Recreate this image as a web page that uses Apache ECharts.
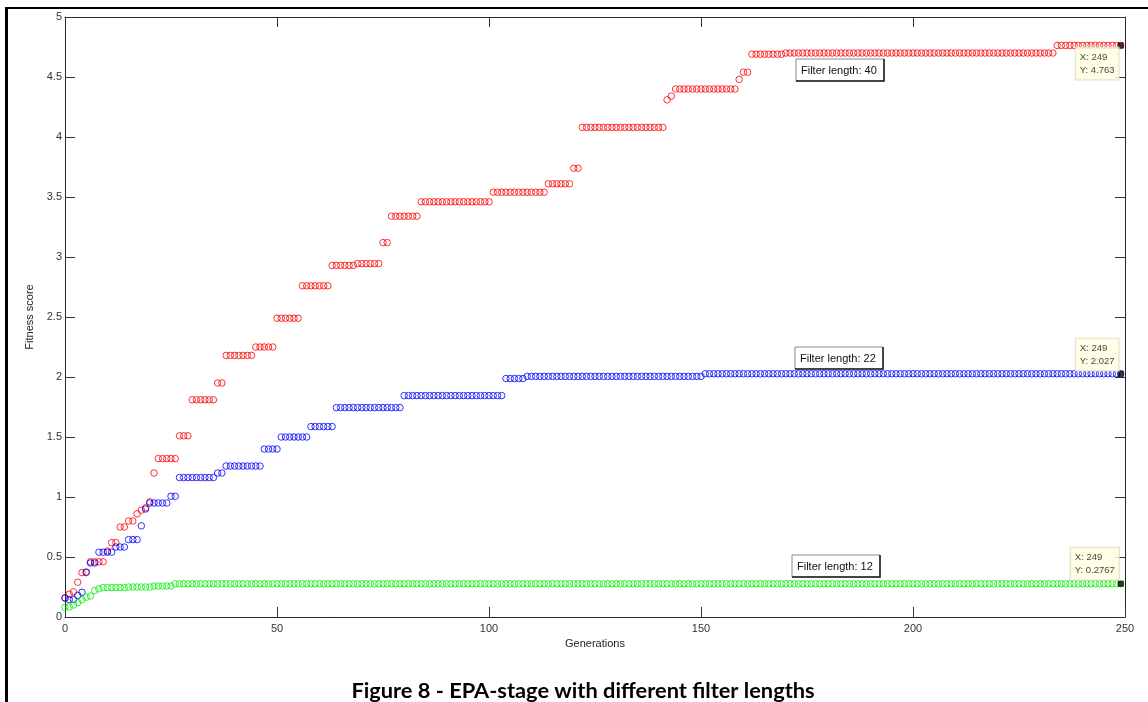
<!DOCTYPE html>
<html><head><meta charset="utf-8">
<script src="https://cdn.jsdelivr.net/npm/echarts@6/dist/echarts.min.js"></script>
<style>html,body{margin:0;padding:0;background:#fff}#chart{width:1148px;height:702px}</style>
</head><body><div id="chart"></div>
<script>
// ---- DATA ----
const titleText = 'Figure 8 - EPA-stage with different filter lengths';
const xTicks = [0, 50, 100, 150, 200, 250];
const yTicks = [0, 0.5, 1, 1.5, 2, 2.5, 3, 3.5, 4, 4.5, 5];
const seriesNames = ['Filter length: 40', 'Filter length: 22', 'Filter length: 12'];

const fitness40 = [
 0.16,0.19,0.21,0.29,0.37,0.37,0.46,0.46,0.46,0.46,
 0.55,0.62,0.62,0.75,0.75,0.80,0.80,0.86,0.89,0.91,
 0.96,1.20,1.32,1.32,1.32,1.32,1.32,1.51,1.51,1.51,
 1.81,1.81,1.81,1.81,1.81,1.81,1.95,1.95,2.18,2.18,
 2.18,2.18,2.18,2.18,2.18,2.25,2.25,2.25,2.25,2.25,
 2.49,2.49,2.49,2.49,2.49,2.49,2.76,2.76,2.76,2.76,
 2.76,2.76,2.76,2.93,2.93,2.93,2.93,2.93,2.93,2.945,
 2.945,2.945,2.945,2.945,2.945,3.12,3.12,3.34,3.34,3.34,
 3.34,3.34,3.34,3.34,3.46,3.46,3.46,3.46,3.46,3.46,
 3.46,3.46,3.46,3.46,3.46,3.46,3.46,3.46,3.46,3.46,
 3.46,3.54,3.54,3.54,3.54,3.54,3.54,3.54,3.54,3.54,
 3.54,3.54,3.54,3.54,3.61,3.61,3.61,3.61,3.61,3.61,
 3.74,3.74,4.08,4.08,4.08,4.08,4.08,4.08,4.08,4.08,
 4.08,4.08,4.08,4.08,4.08,4.08,4.08,4.08,4.08,4.08,
 4.08,4.08,4.31,4.34,4.40,4.40,4.40,4.40,4.40,4.40,
 4.40,4.40,4.40,4.40,4.40,4.40,4.40,4.40,4.40,4.48,
 4.54,4.54,4.69,4.69,4.69,4.69,4.69,4.69,4.69,4.69,
 4.70,4.70,4.70,4.70,4.70,4.70,4.70,4.70,4.70,4.70,
 4.70,4.70,4.70,4.70,4.70,4.70,4.70,4.70,4.70,4.70,
 4.70,4.70,4.70,4.70,4.70,4.70,4.70,4.70,4.70,4.70,
 4.70,4.70,4.70,4.70,4.70,4.70,4.70,4.70,4.70,4.70,
 4.70,4.70,4.70,4.70,4.70,4.70,4.70,4.70,4.70,4.70,
 4.70,4.70,4.70,4.70,4.70,4.70,4.70,4.70,4.70,4.70,
 4.70,4.70,4.70,4.70,4.763,4.763,4.763,4.763,4.763,4.763,
 4.763,4.763,4.763,4.763,4.763,4.763,4.763,4.763,4.763,4.763
];

const fitness22 = [
 0.158,0.145,0.145,0.18,0.206,0.375,0.45,0.45,0.54,0.54,
 0.54,0.54,0.583,0.583,0.583,0.645,0.645,0.645,0.76,0.90,
 0.95,0.95,0.95,0.95,0.95,1.006,1.006,1.162,1.162,1.162,
 1.162,1.162,1.162,1.162,1.162,1.162,1.20,1.20,1.258,1.258,
 1.258,1.258,1.258,1.258,1.258,1.258,1.258,1.40,1.40,1.40,
 1.40,1.50,1.50,1.50,1.50,1.50,1.50,1.50,1.587,1.587,
 1.587,1.587,1.587,1.587,1.745,1.745,1.745,1.745,1.745,1.745,
 1.745,1.745,1.745,1.745,1.745,1.745,1.745,1.745,1.745,1.745,
 1.845,1.845,1.845,1.845,1.845,1.845,1.845,1.845,1.845,1.845,
 1.845,1.845,1.845,1.845,1.845,1.845,1.845,1.845,1.845,1.845,
 1.845,1.845,1.845,1.845,1.987,1.987,1.987,1.987,1.987,2.005,
 2.005,2.005,2.005,2.005,2.005,2.005,2.005,2.005,2.005,2.005,
 2.005,2.005,2.005,2.005,2.005,2.005,2.005,2.005,2.005,2.005,
 2.005,2.005,2.005,2.005,2.005,2.005,2.005,2.005,2.005,2.005,
 2.005,2.005,2.005,2.005,2.005,2.005,2.005,2.005,2.005,2.005,
 2.005,2.027,2.027,2.027,2.027,2.027,2.027,2.027,2.027,2.027,
 2.027,2.027,2.027,2.027,2.027,2.027,2.027,2.027,2.027,2.027,
 2.027,2.027,2.027,2.027,2.027,2.027,2.027,2.027,2.027,2.027,
 2.027,2.027,2.027,2.027,2.027,2.027,2.027,2.027,2.027,2.027,
 2.027,2.027,2.027,2.027,2.027,2.027,2.027,2.027,2.027,2.027,
 2.027,2.027,2.027,2.027,2.027,2.027,2.027,2.027,2.027,2.027,
 2.027,2.027,2.027,2.027,2.027,2.027,2.027,2.027,2.027,2.027,
 2.027,2.027,2.027,2.027,2.027,2.027,2.027,2.027,2.027,2.027,
 2.027,2.027,2.027,2.027,2.027,2.027,2.027,2.027,2.027,2.027,
 2.027,2.027,2.027,2.027,2.027,2.027,2.027,2.027,2.027,2.027
];

const fitness12 = [
 0.08,0.085,0.10,0.12,0.145,0.165,0.175,0.22,0.235,0.245,
 0.245,0.245,0.245,0.245,0.245,0.25,0.25,0.25,0.25,0.25,
 0.25,0.258,0.258,0.258,0.258,0.258,0.2767,0.2767,0.2767,0.2767,
 0.2767,0.2767,0.2767,0.2767,0.2767,0.2767,0.2767,0.2767,0.2767,0.2767,
 0.2767,0.2767,0.2767,0.2767,0.2767,0.2767,0.2767,0.2767,0.2767,0.2767,
 0.2767,0.2767,0.2767,0.2767,0.2767,0.2767,0.2767,0.2767,0.2767,0.2767,
 0.2767,0.2767,0.2767,0.2767,0.2767,0.2767,0.2767,0.2767,0.2767,0.2767,
 0.2767,0.2767,0.2767,0.2767,0.2767,0.2767,0.2767,0.2767,0.2767,0.2767,
 0.2767,0.2767,0.2767,0.2767,0.2767,0.2767,0.2767,0.2767,0.2767,0.2767,
 0.2767,0.2767,0.2767,0.2767,0.2767,0.2767,0.2767,0.2767,0.2767,0.2767,
 0.2767,0.2767,0.2767,0.2767,0.2767,0.2767,0.2767,0.2767,0.2767,0.2767,
 0.2767,0.2767,0.2767,0.2767,0.2767,0.2767,0.2767,0.2767,0.2767,0.2767,
 0.2767,0.2767,0.2767,0.2767,0.2767,0.2767,0.2767,0.2767,0.2767,0.2767,
 0.2767,0.2767,0.2767,0.2767,0.2767,0.2767,0.2767,0.2767,0.2767,0.2767,
 0.2767,0.2767,0.2767,0.2767,0.2767,0.2767,0.2767,0.2767,0.2767,0.2767,
 0.2767,0.2767,0.2767,0.2767,0.2767,0.2767,0.2767,0.2767,0.2767,0.2767,
 0.2767,0.2767,0.2767,0.2767,0.2767,0.2767,0.2767,0.2767,0.2767,0.2767,
 0.2767,0.2767,0.2767,0.2767,0.2767,0.2767,0.2767,0.2767,0.2767,0.2767,
 0.2767,0.2767,0.2767,0.2767,0.2767,0.2767,0.2767,0.2767,0.2767,0.2767,
 0.2767,0.2767,0.2767,0.2767,0.2767,0.2767,0.2767,0.2767,0.2767,0.2767,
 0.2767,0.2767,0.2767,0.2767,0.2767,0.2767,0.2767,0.2767,0.2767,0.2767,
 0.2767,0.2767,0.2767,0.2767,0.2767,0.2767,0.2767,0.2767,0.2767,0.2767,
 0.2767,0.2767,0.2767,0.2767,0.2767,0.2767,0.2767,0.2767,0.2767,0.2767,
 0.2767,0.2767,0.2767,0.2767,0.2767,0.2767,0.2767,0.2767,0.2767,0.2767,
 0.2767,0.2767,0.2767,0.2767,0.2767,0.2767,0.2767,0.2767,0.2767,0.2767
];

// data-tip (cursor) readouts shown at the last generation
const tipGeneration = 249;
const tipText40 = ['X: 249', 'Y: 4.763'];
const tipText22 = ['X: 249', 'Y: 2.027'];
const tipText12 = ['X: 249', 'Y: 0.2767'];

// ---- CHART ----
const FONT = 'Liberation Sans, Arial, sans-serif';
function pairs(arr) { return arr.map((v, i) => [i, v]); }

const axisLine = { show: true, onZero: false, lineStyle: { color: '#262626', width: 1 } };
const axisTick = { show: true, inside: true, length: 10, lineStyle: { color: '#333', width: 1 } };

function scatterSeries(name, data, color) {
  return {
    name, type: 'scatter', data: pairs(data),
    symbol: 'circle', symbolSize: 6.5,
    itemStyle: { color: 'rgba(0,0,0,0)', borderColor: color, borderWidth: 1 },
    emphasis: { disabled: true }, silent: true, z: 2
  };
}
function tipSeries(data, lines, pos, vAlign) {
  return {
    type: 'scatter', data: [[tipGeneration, data[tipGeneration]]],
    symbol: 'rect', symbolSize: 6,
    itemStyle: { color: '#000' }, silent: true, z: 5,
    label: {
      show: true, formatter: lines.join('\n'),
      position: pos, align: 'left', verticalAlign: vAlign,
      fontFamily: FONT, fontSize: 9.5, color: '#111', lineHeight: 13,
      backgroundColor: '#ffffe1', borderColor: '#d9d9c2', borderWidth: 1,
      padding: [3, 4, 3, 4]
    }
  };
}

function noteBox(text, x, y) {
  const w = 88, h = 22;
  return {
    type: 'group', x, y, z: 10,
    children: [
      { type: 'rect', shape: { x: 0, y: 0, width: w, height: h }, style: { fill: '#fff', stroke: '#8a8a8a', lineWidth: 1 } },
      { type: 'polyline', shape: { points: [[w, 0], [w, h], [0, h]] }, style: { stroke: '#1a1a1a', lineWidth: 1.5, fill: null } },
      { type: 'text', x: 5, y: h / 2 + 0.5, style: { text, font: '11px ' + FONT, fill: '#111', verticalAlign: 'middle' } }
    ]
  };
}

const chart = echarts.init(document.getElementById('chart'), null, { renderer: 'canvas' });
chart.setOption({
  animation: false,
  backgroundColor: '#fff',
  title: {
    text: titleText, left: 578, top: 675, textAlign: 'center',
    textStyle: { fontFamily: 'Lato, Open Sans, sans-serif', fontWeight: 'bold', fontSize: 21.8, color: '#000' }
  },
  grid: { left: 65, right: 23, top: 17, bottom: 85, containLabel: false },
  xAxis: [
    {
      type: 'value', min: xTicks[0], max: xTicks[xTicks.length - 1], interval: 50, position: 'bottom',
      axisLine, axisTick, splitLine: { show: false },
      axisLabel: { color: '#333', fontSize: 11, fontFamily: FONT, margin: 6 },
      name: 'Generations', nameLocation: 'middle', nameGap: 19,
      nameTextStyle: { color: '#222', fontSize: 11, fontFamily: FONT }
    },
    {
      type: 'value', min: xTicks[0], max: xTicks[xTicks.length - 1], interval: 50, position: 'top',
      axisLine, axisTick, splitLine: { show: false }, axisLabel: { show: false }
    }
  ],
  yAxis: [
    {
      type: 'value', min: yTicks[0], max: yTicks[yTicks.length - 1], interval: 0.5, position: 'left',
      axisLine, axisTick, splitLine: { show: false },
      axisLabel: { color: '#333', fontSize: 11, fontFamily: FONT, margin: 3 },
      name: 'Fitness score', nameLocation: 'middle', nameGap: 28, nameRotate: 90,
      nameTextStyle: { color: '#222', fontSize: 11, fontFamily: FONT }
    },
    {
      type: 'value', min: yTicks[0], max: yTicks[yTicks.length - 1], interval: 0.5, position: 'right',
      axisLine, axisTick, splitLine: { show: false }, axisLabel: { show: false }
    }
  ],
  series: [
    scatterSeries(seriesNames[0], fitness40, '#ff0000'),
    scatterSeries(seriesNames[1], fitness22, '#0000ff'),
    scatterSeries(seriesNames[2], fitness12, '#00f000'),
    tipSeries(fitness40, tipText40, [-42, 5], 'top'),
    tipSeries(fitness22, tipText22, [-42, 0], 'bottom'),
    tipSeries(fitness12, tipText12, [-47, -1], 'bottom')
  ],
  graphic: [
    { type: 'line', shape: { x1: 6.5, y1: 7, x2: 6.5, y2: 702 }, style: { stroke: '#000', lineWidth: 3 } },
    { type: 'line', shape: { x1: 5, y1: 8, x2: 1148, y2: 8 }, style: { stroke: '#000', lineWidth: 2 } },
    noteBox(seriesNames[0], 796, 59),
    noteBox(seriesNames[1], 795, 347),
    noteBox(seriesNames[2], 792, 555)
  ]
});
</script></body></html>
